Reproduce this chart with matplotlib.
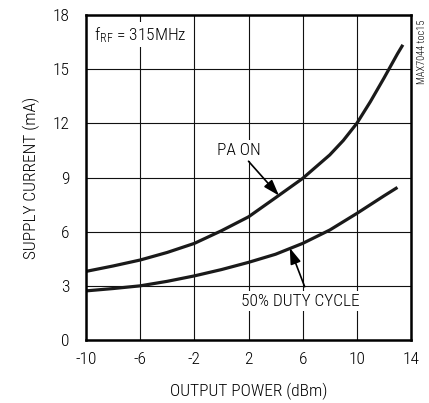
import matplotlib
matplotlib.use("Agg")
import matplotlib.pyplot as plt

FONT = 'Roboto Condensed'
plt.rcParams['font.family'] = [FONT, 'DejaVu Sans']
plt.rcParams['font.weight'] = 'light'
plt.rcParams['axes.labelweight'] = 'light'
plt.rcParams['mathtext.fontset'] = 'custom'
plt.rcParams['mathtext.rm'] = FONT + ':light'
plt.rcParams['mathtext.it'] = FONT + ':light'

# data
pa_on_x = [-10, -8, -6, -4, -2, 0, 2, 4, 6, 7, 8, 9, 10, 11, 12, 13, 13.4]
pa_on_y = [3.8, 4.1, 4.43, 4.85, 5.35, 6.05, 6.82, 7.88, 8.95, 9.6, 10.25, 11.05, 12.0, 13.2, 14.5, 15.85, 16.35]
duty_x = [-10, -8, -6, -4, -2, 0, 2, 4, 6, 8, 10, 12, 13]
duty_y = [2.72, 2.85, 3.0, 3.25, 3.55, 3.9, 4.3, 4.75, 5.35, 6.09, 7.01, 7.98, 8.45]
x_ticks = [-10, -6, -2, 2, 6, 10, 14]
y_ticks = [0, 3, 6, 9, 12, 15, 18]

fig = plt.figure(figsize=(4.29, 4.03), dpi=100)
ax = fig.add_axes([86/429, 1-340/403, (411-86)/429, (340-15)/403])
ax.set_xlim(-10, 14)
ax.set_ylim(0, 18)
ax.set_xticks(x_ticks)
ax.set_yticks(y_ticks)
ax.set_xticklabels([str(t) for t in x_ticks])
ax.set_yticklabels([str(t) for t in y_ticks])
ax.tick_params(length=0, labelsize=12.5)
ax.tick_params(axis='x', pad=9)
ax.tick_params(axis='y', pad=12)
ax.grid(True, color='#111111', linewidth=0.8)
for s in ax.spines.values():
    s.set_linewidth(1.8)
    s.set_zorder(5)

ax.plot(pa_on_x, pa_on_y, color='#1a1a1a', lw=2.3, solid_capstyle='butt', solid_joinstyle='round', zorder=3)
ax.plot(duty_x, duty_y, color='#1a1a1a', lw=2.3, solid_capstyle='butt', solid_joinstyle='round', zorder=3)

ax.set_xlabel('OUTPUT POWER (dBm)', fontsize=12.5, labelpad=11, fontweight='light')
ax.set_ylabel('SUPPLY CURRENT (mA)', fontsize=12.5, labelpad=9, fontweight='light')

bb = dict(facecolor='white', edgecolor='none', pad=2)
ax.text(-9.4, 16.9, r'f$_{\mathrm{RF}}$ = 315MHz', fontsize=12.5, ha='left', va='center', bbox=bb, zorder=4)
ax.text(1.3, 10.5, 'PA ON', fontsize=12.5, ha='center', va='center', bbox=bb, zorder=4)
ax.text(5.85, 2.15, '50% DUTY CYCLE', fontsize=12.5, ha='center', va='center', bbox=bb, zorder=4)

arr = dict(arrowstyle='-|>,head_length=0.6,head_width=0.2', color='black', lw=1.2,
           mutation_scale=16, shrinkA=0, shrinkB=0)
ax.annotate('', xy=(4.25, 8.0), xytext=(2.0, 9.9), arrowprops=arr, zorder=4)
ax.annotate('', xy=(5.05, 5.1), xytext=(6.15, 2.95), arrowprops=arr, zorder=4)

fig.text(422/429, 1-52/403, 'MAX7044 toc15', rotation=90, fontsize=7.5, ha='center', va='center')

fig.savefig('out.png', dpi=100)
